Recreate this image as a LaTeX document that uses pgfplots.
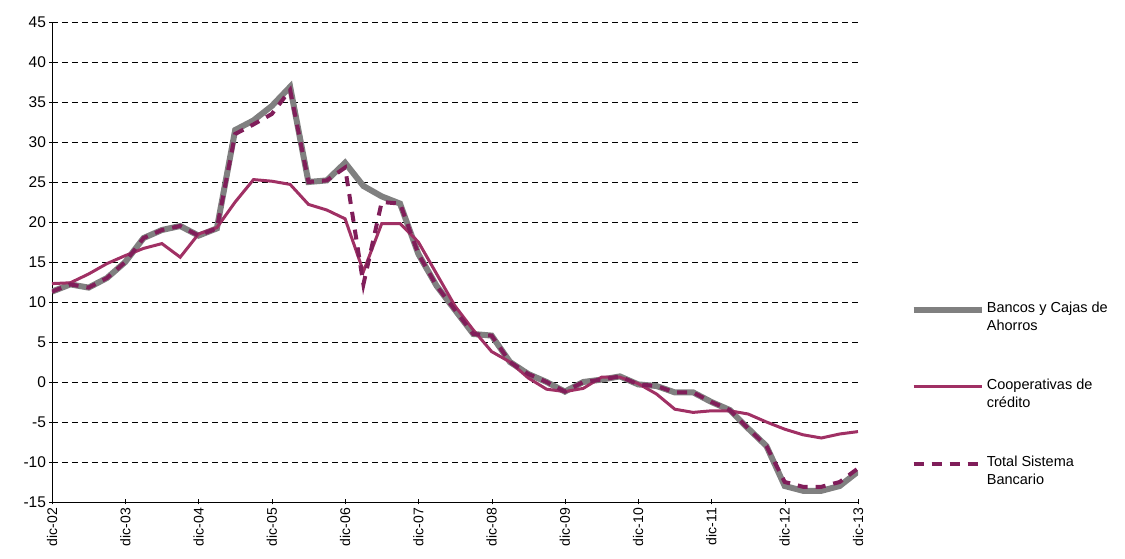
\documentclass[border=0pt]{standalone}
\usepackage{pgfplots}
\pgfplotsset{compat=1.18}
\usepackage{fontspec}
\setmainfont{Liberation Sans}
\definecolor{gr}{RGB}{128,128,128}
\definecolor{co}{RGB}{160,48,100}
\definecolor{to}{RGB}{128,30,90}
\begin{document}
\begin{tikzpicture}
\begin{axis}[scale only axis, width=806pt, height=480pt,
 xmin=0, xmax=44, ymin=-15, ymax=45, ytick={-15,-10,...,45},
 xtick={0,4,...,44},
 xticklabels={dic-02,dic-03,dic-04,dic-05,dic-06,dic-07,dic-08,dic-09,dic-10,dic-11,dic-12,dic-13},
 xticklabel style={rotate=90,anchor=east,font=\fontsize{14}{16}\selectfont},
 yticklabel style={font=\fontsize{15.5}{17}\selectfont},
 /pgf/number format/assume math mode=true,
 axis x line=bottom, axis y line=left, axis line style={-},
 tick style={black}, major tick length=5pt,
 ymajorgrids, grid style={black,dash pattern=on 6pt off 4pt, line width=0.6pt},
 legend style={at={(1.065,0.225)},anchor=west,draw=none,font=\fontsize{14.5}{18}\selectfont, row sep=43pt, cells={align=left}, inner sep=0pt},
 legend cell align=left,
 legend image code/.code={\draw[#1] (0cm,0.25cm) -- (2.4cm,0.25cm);},
]
\addplot[gr, line width=6pt] coordinates {(0,11.3)(1,12.2)(2,11.8)(3,13)(4,15)(5,18)(6,19)(7,19.5)(8,18.3)(9,19.2)(10,31.5)(11,32.7)(12,34.5)(13,36.9)(14,25)(15,25.2)(16,27.4)(17,24.5)(18,23.2)(19,22.3)(20,16)(21,12)(22,9)(23,6)(24,5.8)(25,2.5)(26,1)(27,0)(28,-1.2)(29,0)(30,0.3)(31,0.7)(32,-0.3)(33,-0.5)(34,-1.3)(35,-1.3)(36,-2.5)(37,-3.5)(38,-5.8)(39,-8)(40,-13)(41,-13.6)(42,-13.6)(43,-13)(44,-11.2)};
\addlegendentry{Bancos y Cajas de\\Ahorros}
\addplot[co, line width=3pt] coordinates {(0,12.3)(1,12.4)(2,13.5)(3,14.8)(4,15.8)(5,16.7)(6,17.3)(7,15.6)(8,18.5)(9,19.3)(10,22.5)(11,25.3)(12,25.1)(13,24.7)(14,22.2)(15,21.5)(16,20.4)(17,13.8)(18,19.8)(19,19.8)(20,17.5)(21,13.5)(22,9.5)(23,6.5)(24,3.8)(25,2.5)(26,0.5)(27,-0.9)(28,-1.2)(29,-0.8)(30,0.6)(31,0.6)(32,-0.2)(33,-1.5)(34,-3.4)(35,-3.8)(36,-3.6)(37,-3.6)(38,-4)(39,-5)(40,-5.9)(41,-6.6)(42,-7)(43,-6.5)(44,-6.2)};
\addlegendentry{Cooperativas de\\crédito}
\addplot[to, line width=4pt, dash pattern=on 10pt off 8pt] coordinates {(0,11.3)(1,12.2)(2,11.8)(3,13)(4,15)(5,18)(6,19)(7,19.5)(8,18.3)(9,19.2)(10,31)(11,32.2)(12,33.5)(13,36.5)(14,25)(15,25.2)(16,26.8)(17,12.2)(18,22.5)(19,22.3)(20,16)(21,12)(22,9)(23,6)(24,5.8)(25,2.5)(26,1)(27,0)(28,-1.2)(29,0)(30,0.3)(31,0.7)(32,-0.3)(33,-0.5)(34,-1.3)(35,-1.3)(36,-2.5)(37,-3.5)(38,-5.8)(39,-8)(40,-12.5)(41,-13.1)(42,-13.1)(43,-12.5)(44,-10.8)};
\addlegendentry{Total Sistema\\Bancario}
\end{axis}
\path (current axis.south west) ++(-52pt,-57pt) rectangle ++(1125pt,559pt);
\end{tikzpicture}
\end{document}
